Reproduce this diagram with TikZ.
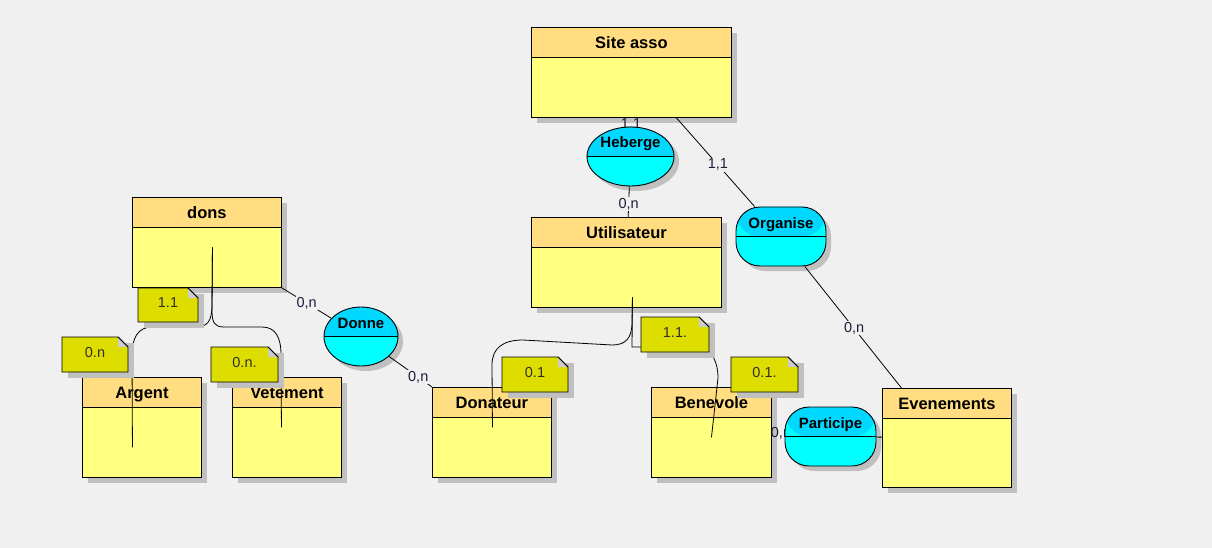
\documentclass[tikz,border=0pt]{standalone}
\usepackage{fontspec}
\setmainfont{Liberation Sans}
\usetikzlibrary{shadows,shapes.geometric}
\definecolor{bgc}{HTML}{F0F0F0}
\definecolor{hdrc}{HTML}{FFDD80}
\definecolor{bodyc}{HTML}{FFFF80}
\definecolor{shadc}{HTML}{C0C0C0}
\definecolor{notec}{HTML}{DDDD00}
\definecolor{foldc}{HTML}{CCCCCC}
\definecolor{reltop}{HTML}{00D8FF}
\definecolor{relbot}{HTML}{00FFFF}
\definecolor{labc}{HTML}{1E1E3C}
\tikzset{
  ent/.style={draw, line width=0.9pt, fill=bodyc, anchor=north west, inner sep=0pt,
    drop shadow={shadow xshift=6pt, shadow yshift=-6pt, fill=shadc, opacity=1}},
  hdrbox/.style={draw, line width=0.9pt, fill=hdrc, anchor=north west, inner sep=0pt,
    minimum height=30pt, text height=13pt, text depth=0pt,
    font=\fontsize{16.5}{18}\selectfont\bfseries},
  rel/.style={draw, line width=0.9pt, fill=relbot, inner sep=0pt, minimum height=59pt,
    drop shadow={shadow xshift=5pt, shadow yshift=-5pt, fill=shadc, opacity=1},
    path picture={\fill[reltop] (path picture bounding box.north west) rectangle (path picture bounding box.east);
      \draw[line width=0.9pt] (path picture bounding box.west) -- (path picture bounding box.east);}},
  ellrel/.style={rel, ellipse},
  rrrel/.style={rel, rectangle, rounded corners=24pt},
  reltxt/.style={anchor=base, inner sep=0pt, font=\fontsize{15}{17}\selectfont\bfseries},
  card/.style={fill=bgc, inner sep=1pt, text=labc, font=\fontsize{14.5}{16}\selectfont},
  cardnb/.style={inner sep=1pt, text=labc, font=\fontsize{14.5}{16}\selectfont},
  conn/.style={line width=0.8pt, black},
  notetxt/.style={inner sep=0pt, text=black!85!olive, font=\fontsize{14.5}{16}\selectfont},
}
\newcommand\entity[6]{%
  \node[ent, minimum width=#4pt, minimum height=#5pt] (#1) at (#2,#3) {};
  \node[hdrbox, minimum width=#4pt] (#1H) at (#1.north west) {#6};
}
\newcommand\notebox[6]{%
  \fill[shadc] (#2+6,#3+6) rectangle (#4+6,#5+6);
  \draw[line width=0.9pt, fill=notec] (#2,#3) -- (#4-10,#3) -- (#4,#3+10) -- (#4,#5) -- (#2,#5) -- cycle;
  \fill[foldc] (#4-10,#3) -- (#4-10,#3+10) -- (#4,#3+10) -- cycle;
  \draw[line width=0.9pt] (#4-10,#3) -- (#4,#3+10);
  \node[notetxt] (#1) at ({(#2+#4)/2},{(#3+#5)/2-2}) {#6};
}
\begin{document}
\begin{tikzpicture}[x=1pt,y=-1pt]
\fill[bgc] (0,0) rectangle (1212,548);
\useasboundingbox (0,0) rectangle (1212,548);

% entities
\entity{site}{531}{27}{200}{90}{Site asso}
\entity{util}{531}{217}{190}{90}{Utilisateur}
\entity{dons}{132}{197}{149}{90}{dons}
\entity{argent}{82}{377}{119}{100}{Argent}
\entity{vetement}{232}{377}{109}{100}{Vetement}
\entity{donateur}{432}{387}{119}{90}{Donateur}
\entity{benevole}{651}{387}{120}{90}{Benevole}
\entity{evenements}{882}{388}{129}{99}{Evenements}

% labels partly hidden by relationships
\node[cardnb] (lsite) at (631,124) {1,1};
\node[cardnb] (lbene) at (781,433) {0,n};

% relationships
\node[ellrel, minimum width=87pt] (heberge) at (630.5,156.5) {};
\node[reltxt] (hebergeT) at ([yshift=8.5pt]heberge.center) {Heberge};
\node[rrrel, minimum width=90pt] (organise) at (781,236.5) {};
\node[reltxt] (organiseT) at ([yshift=8.5pt]organise.center) {Organise};
\node[ellrel, minimum width=74pt] (donne) at (361,336.5) {};
\node[reltxt] (donneT) at ([yshift=8.5pt]donne.center) {Donne};
\node[rrrel, minimum width=91pt] (participe) at (830.5,436.5) {};
\node[reltxt] (participeT) at ([yshift=8.5pt]participe.center) {Participe};

% association connectors
\draw[conn] (heberge) -- node[card, pos=0.58] (lheb) {0,n} (util);
\draw[conn] ([xshift=45pt]site.south) -- node[card, pos=0.53] (lorg1) {1,1} (organise);
\draw[conn] (organise) -- node[card, pos=0.51] (lorg2) {0,n} ([xshift=-45.5pt]evenements.north);
\draw[conn] (participe) -- (evenements);
\draw[conn] (dons.south east) -- node[card, pos=0.5] (ldon1) {0,n} (donne);
\draw[conn] (donne) -- node[card, pos=0.68] (ldon2) {0,n} (donateur.north west);

% inheritance-like links
\draw[conn] ([shift={(5.5,5)}]dons.center) -- (212,305) .. controls (212,322) and (207,327) .. (195,327)
  -- (152,327) .. controls (138,327) and (132,338) .. (132,355) -- ([shift={(-9.5,20)}]argent.center);
\draw[conn] ([shift={(5.5,5)}]dons.center) -- (212,310) .. controls (212,322) and (214,327) .. (224,327)
  -- (262,327) .. controls (276,327) and (281,338) .. (281,355) -- ([shift={(-5.5,0)}]vetement.center);
\draw[conn] ([shift={(6,35)}]util.center) -- (632,322) .. controls (632,338) and (626,345) .. (612,345)
  -- (523,340) .. controls (503,340) and (492,348) .. (492,365) -- ([shift={(0.5,-5)}]donateur.center);
\draw[conn] ([shift={(6,35)}]util.center) -- (632,347) -- (700,347) .. controls (712,350) and (718,362) .. (718,378)
  -- ([shift={(0,5)}]benevole.center);

% notes
\notebox{n1}{138}{288}{198}{322}{1.1}
\notebox{n2}{62}{337}{128}{372}{0.n}
\notebox{n3}{211}{347}{278}{382}{0.n.}
\notebox{n4}{502}{357}{568}{392}{0.1}
\notebox{n5}{641}{317}{709}{352}{1.1.}
\notebox{n6}{731}{357}{798}{392}{0.1.}
\end{tikzpicture}
\end{document}
